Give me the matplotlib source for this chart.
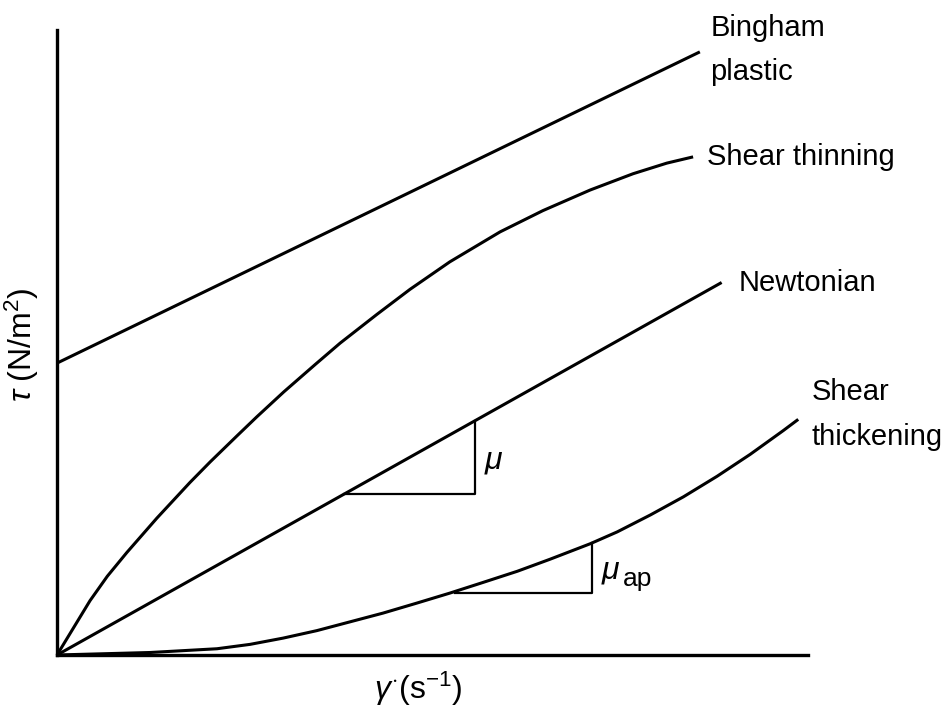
import matplotlib
matplotlib.use("Agg")
import matplotlib.pyplot as plt

plt.rcParams['font.family'] = ['Liberation Sans', 'DejaVu Sans']
plt.rcParams['mathtext.fontset'] = 'custom'
plt.rcParams['mathtext.rm'] = 'Liberation Sans'
plt.rcParams['mathtext.it'] = 'Liberation Sans:italic'
plt.rcParams['mathtext.sf'] = 'Liberation Sans'

# Curve data (shear rate, shear stress), arbitrary units
bingham_x = [0.0, 4.66, 8.56]
bingham_y = [4.67, 7.38, 9.65]

newton_x = [0.0, 8.85]
newton_y = [0.0, 5.96]

thin_x = [0.0, 0.44, 0.67, 0.93, 1.33, 1.77, 2.04, 2.40, 2.66, 3.02, 3.44,
          3.77, 4.26, 4.70, 5.23, 5.90, 6.47, 7.10, 7.67, 8.12, 8.47]
thin_y = [0.0, 0.87, 1.26, 1.64, 2.19, 2.76, 3.09, 3.51, 3.81, 4.21, 4.65,
          4.99, 5.45, 5.85, 6.29, 6.77, 7.11, 7.44, 7.70, 7.87, 7.97]

thick_x = [0.0, 1.24, 2.13, 2.57, 3.01, 3.46, 3.90, 4.34, 4.79, 5.23, 5.67,
           6.13, 6.56, 7.10, 7.46, 7.90, 8.34, 8.79, 9.23, 9.67, 9.87]
thick_y = [0.0, 0.04, 0.10, 0.17, 0.27, 0.39, 0.53, 0.67, 0.83, 0.99, 1.16,
           1.34, 1.53, 1.78, 1.97, 2.24, 2.53, 2.86, 3.21, 3.59, 3.77]

# slope triangles
tri_mu_x = [3.82, 5.57, 5.57]
tri_mu_y = [2.57, 2.57, 3.75]
tri_ap_x = [5.30, 7.12, 7.12]
tri_ap_y = [0.99, 0.99, 1.79]

fig = plt.figure(figsize=(9.42, 7.17), dpi=100)
ax = fig.add_axes([57/942, 62/717, 751/942, 625/717])
ax.set_xlim(0, 10)
ax.set_ylim(0, 10)

lw = 2.2
for xs, ys in [(bingham_x, bingham_y), (newton_x, newton_y),
               (thin_x, thin_y), (thick_x, thick_y)]:
    ax.plot(xs, ys, color='black', lw=lw, solid_capstyle='butt',
            solid_joinstyle='round', clip_on=False)

ax.plot(tri_mu_x, tri_mu_y, color='black', lw=1.6)
ax.plot(tri_ap_x, tri_ap_y, color='black', lw=1.6)

for s in ['top', 'right']:
    ax.spines[s].set_visible(False)
for s in ['left', 'bottom']:
    ax.spines[s].set_linewidth(2.4)
ax.set_xticks([])
ax.set_yticks([])

fs = 21
ax.text(8.70, 10.03, 'Bingham', fontsize=fs, va='center', ha='left', clip_on=False)
ax.text(8.70, 9.33, 'plastic', fontsize=fs, va='center', ha='left', clip_on=False)
ax.text(8.66, 7.97, 'Shear thinning', fontsize=fs, va='center', ha='left', clip_on=False)
ax.text(9.07, 5.95, 'Newtonian', fontsize=fs, va='center', ha='left', clip_on=False)
ax.text(10.05, 4.21, 'Shear', fontsize=fs, va='center', ha='left', clip_on=False)
ax.text(10.05, 3.49, 'thickening', fontsize=fs, va='center', ha='left', clip_on=False)
ax.text(5.68, 3.10, r'$\mu$', fontsize=23, va='center', ha='left')
ax.text(7.25, 1.34, r'$\mu$', fontsize=23, va='center', ha='left')
ax.text(7.54, 1.22, 'ap', fontsize=19, va='center', ha='left')

fig.text(22/942, 1 - 345/717, r'$\tau$ (N/m$^2$)', fontsize=23, rotation=90,
         va='center', ha='center')
fig.text(418/942, 1 - 689/717, r'$\gamma^{\cdot}$(s$^{-1}$)', fontsize=23,
         va='center', ha='center')

fig.savefig('out.png', dpi=100)
